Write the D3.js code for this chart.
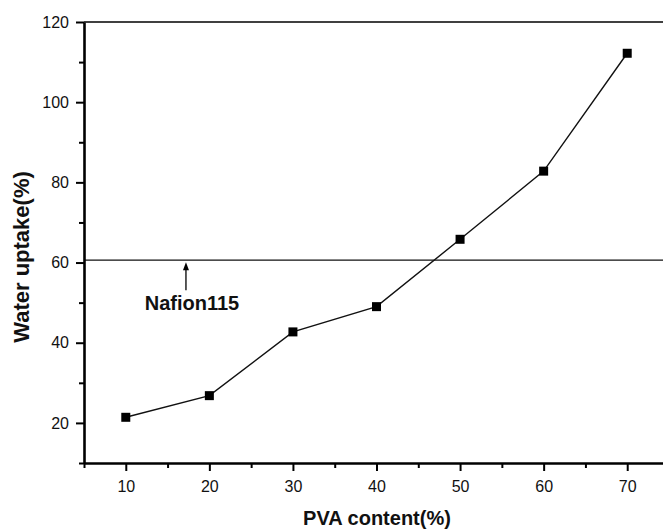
<!DOCTYPE html>
<html>
  <head>
    <meta charset="utf-8">
    <title></title>
    <script type="text/javascript" src="https://d3js.org/d3.v7.min.js"></script>
    <style media="screen">
      body { margin: 0; background: #fff; }
      svg { display: block; font-family: "Liberation Sans", Arial, sans-serif; }
    </style>
  </head>
  <body>

    <script type="text/javascript">

      // PVA content (%) and water uptake (%)
      var pvaContent = [10, 20, 30, 40, 50, 60, 70];
      var waterUptake = [21.4, 26.8, 42.7, 49.0, 65.8, 82.8, 112.2];

      var nafionValue = 60.6;
      var nafionLabel = "Nafion115";
      var nafionArrowX = 17.2;

      var xTicks = [10, 20, 30, 40, 50, 60, 70];
      var xMinor = [5, 15, 25, 35, 45, 55, 65];
      var yTicks = [20, 40, 60, 80, 100, 120];
      var yMinor = [10, 30, 50, 70, 90, 110];

      var w = 663;
      var h = 529;

      var xscale = d3.scaleLinear()
        .domain([5, 75])
        .range([84, 669]);

      var yscale = d3.scaleLinear()
        .domain([10, 120])
        .range([463, 22]);

      var svg = d3.select('body')
        .append('svg')
        .attr('width', w)
        .attr('height', h);

      // top frame line
      svg.append('line')
        .attr('x1', xscale(5)).attr('x2', w)
        .attr('y1', yscale(120)).attr('y2', yscale(120))
        .attr('stroke', '#000').attr('stroke-width', 1.6);

      // Nafion reference line
      svg.append('line')
        .attr('x1', xscale(5)).attr('x2', w)
        .attr('y1', yscale(nafionValue)).attr('y2', yscale(nafionValue))
        .attr('stroke', '#111').attr('stroke-width', 1.2);

      var xAxis = d3.axisBottom(xscale).tickValues(xTicks).tickSize(8).tickSizeOuter(0);
      var xAxisMinor = d3.axisBottom(xscale).tickValues(xMinor).tickSize(5).tickSizeOuter(0).tickFormat('');
      var yAxis = d3.axisLeft(yscale).tickValues(yTicks).tickSize(8).tickSizeOuter(0);
      var yAxisMinor = d3.axisLeft(yscale).tickValues(yMinor).tickSize(5).tickSizeOuter(0).tickFormat('');

      function styleAxis(g) {
        g.select('.domain').attr('stroke-width', 2.6).attr('stroke', '#000');
        g.selectAll('.tick line').attr('stroke-width', 2).attr('stroke', '#000');
        g.selectAll('.tick text')
          .attr('font-size', 16)
          .attr('font-family', '"Liberation Sans", Arial, sans-serif')
          .attr('fill', '#111');
      }

      svg.append('g')
        .attr('class', 'x axis')
        .attr('transform', 'translate(0,' + yscale(10) + ')')
        .call(xAxis)
        .call(styleAxis)
        .selectAll('.tick text').attr('dy', null).attr('y', 29);

      svg.append('g')
        .attr('class', 'x axis minor')
        .attr('transform', 'translate(0,' + yscale(10) + ')')
        .call(xAxisMinor)
        .call(styleAxis)
        .select('.domain').remove();

      svg.append('g')
        .attr('class', 'y axis')
        .attr('transform', 'translate(' + xscale(5) + ',0)')
        .call(yAxis)
        .call(styleAxis)
        .selectAll('.tick text').attr('x', -15);

      svg.append('g')
        .attr('class', 'y axis minor')
        .attr('transform', 'translate(' + xscale(5) + ',0)')
        .call(yAxisMinor)
        .call(styleAxis)
        .select('.domain').remove();

      // data line
      var points = pvaContent.map(function(d, i) { return [d, waterUptake[i]]; });

      svg.append('path')
        .datum(points)
        .attr('fill', 'none')
        .attr('stroke', '#111')
        .attr('stroke-width', 1.4)
        .attr('d', d3.line()
          .x(function(d) { return xscale(d[0]); })
          .y(function(d) { return yscale(d[1]); }));

      svg.selectAll('rect.pt')
        .data(points)
        .enter()
        .append('rect')
        .attr('class', 'pt')
        .attr('x', function(d) { return xscale(d[0]) - 4.5; })
        .attr('y', function(d) { return yscale(d[1]) - 4.5; })
        .attr('width', 9)
        .attr('height', 9)
        .attr('fill', '#000');

      // arrow pointing to the Nafion line
      var ax = xscale(nafionArrowX);
      var ay = yscale(nafionValue);
      svg.append('line')
        .attr('x1', ax).attr('x2', ax)
        .attr('y1', ay + 30).attr('y2', ay + 6)
        .attr('stroke', '#000').attr('stroke-width', 1.3);
      svg.append('path')
        .attr('d', 'M' + ax + ',' + (ay + 2) + 'L' + (ax - 3) + ',' + (ay + 10) + 'L' + (ax + 3) + ',' + (ay + 10) + 'Z')
        .attr('fill', '#000');

      svg.append('text')
        .attr('x', ax + 6)
        .attr('y', ay + 50)
        .attr('text-anchor', 'middle')
        .attr('font-size', 20)
        .attr('font-weight', 'bold')
        .attr('fill', '#111')
        .text(nafionLabel);

      // axis titles
      svg.append('text')
        .attr('transform', 'translate(29,257)rotate(-90)')
        .attr('text-anchor', 'middle')
        .attr('font-size', 22)
        .attr('font-weight', 'bold')
        .attr('fill', '#111')
        .text('Water uptake(%)');

      svg.append('text')
        .attr('x', 377)
        .attr('y', 525)
        .attr('text-anchor', 'middle')
        .attr('font-size', 20)
        .attr('font-weight', 'bold')
        .attr('fill', '#111')
        .text('PVA content(%)');

    </script>

  </body>
</html>
